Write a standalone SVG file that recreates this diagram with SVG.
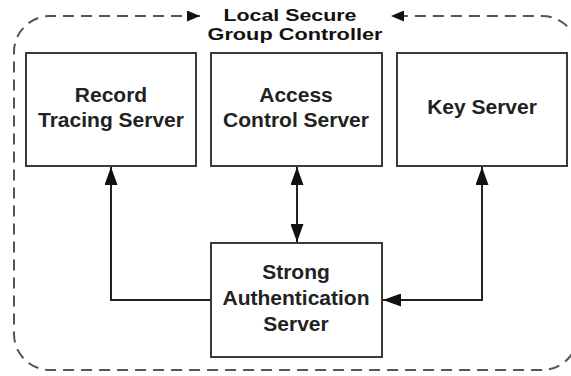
<svg xmlns="http://www.w3.org/2000/svg" width="571" height="376" viewBox="0 0 571 376">
<style>
  .box { fill: #fff; stroke: #3a3a3a; stroke-width: 2; }
  .lbl { font-family: "Liberation Sans", Arial, sans-serif; font-weight: bold; font-size: 21px; fill: #222; text-anchor: middle; }
  .ttl { font-family: "Liberation Sans", Arial, sans-serif; font-weight: bold; font-size: 17px; fill: #111; text-anchor: middle; }
  .conn { fill: none; stroke: #222; stroke-width: 2; }
  .border { fill: none; stroke: #555; stroke-width: 2; stroke-dasharray: 11 7; }
</style>
<defs>
  <marker id="ah" viewBox="0 0 18 13" refX="18" refY="6.5" markerWidth="18" markerHeight="13" markerUnits="userSpaceOnUse" orient="auto-start-reverse">
    <path d="M0,0 L18,6.5 L0,13 Z" fill="#111"/>
  </marker>
  <marker id="ahs" viewBox="0 0 13 11" refX="13" refY="5.5" markerWidth="13" markerHeight="11" markerUnits="userSpaceOnUse" orient="auto-start-reverse">
    <path d="M0,0 L13,5.5 L0,11 Z" fill="#111"/>
  </marker>
</defs>
<rect width="571" height="376" fill="#fff"/>
<g id="controller">
  <path class="border" d="M 200 16 H 50 A 36 36 0 0 0 14 52 V 334 A 36 36 0 0 0 50 370 H 542 A 36 36 0 0 0 578 334 V 52 A 36 36 0 0 0 542 16 H 391" marker-start="url(#ahs)" marker-end="url(#ahs)"/>
  <text class="ttl" x="290" y="20.5" textLength="133" lengthAdjust="spacingAndGlyphs">Local Secure</text>
  <text class="ttl" x="295" y="39.5" textLength="175" lengthAdjust="spacingAndGlyphs">Group Controller</text>
</g>
<g id="record">
  <rect class="box" x="26" y="53" width="170" height="113"/>
  <text class="lbl" x="111" y="102">Record</text>
  <text class="lbl" x="111" y="127">Tracing Server</text>
</g>
<g id="access">
  <rect class="box" x="211" y="53" width="171" height="113"/>
  <text class="lbl" x="296" y="102">Access</text>
  <text class="lbl" x="296" y="127">Control Server</text>
</g>
<g id="key">
  <rect class="box" x="397" y="53" width="170" height="113"/>
  <text class="lbl" x="482" y="114">Key Server</text>
</g>
<g id="strong">
  <rect class="box" x="211" y="243" width="171" height="114"/>
  <text class="lbl" x="296" y="279">Strong</text>
  <text class="lbl" x="296" y="305">Authentication</text>
  <text class="lbl" x="296" y="331">Server</text>
</g>
<g id="connectors">
  <path class="conn" d="M 211 300 H 111 V 167" marker-end="url(#ah)"/>
  <path class="conn" d="M 297 167 V 242" marker-start="url(#ah)" marker-end="url(#ah)"/>
  <path class="conn" d="M 482 167 V 300 H 383" marker-start="url(#ah)" marker-end="url(#ah)"/>
</g>
</svg>
